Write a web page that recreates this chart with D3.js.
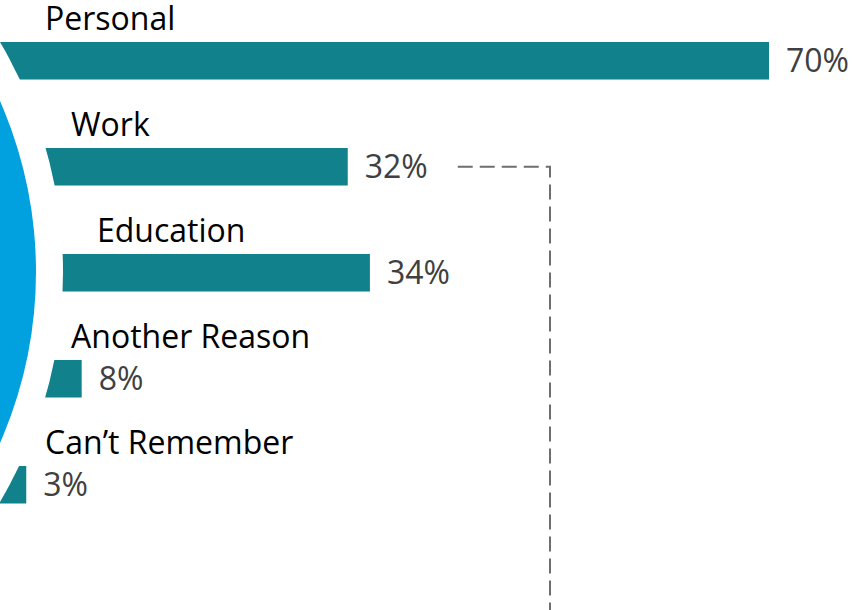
<!DOCTYPE html>
<html>
<head>
<meta charset="utf-8">
<script src="https://cdn.jsdelivr.net/npm/d3@7"></script>
<style>
  html, body { margin: 0; padding: 0; background: #ffffff; }
  svg { display: block; }
</style>
</head>
<body>
<svg id="chart" width="854" height="610"></svg>
<script>
// ---- data ----
const categories = ["Personal", "Work", "Education", "Another Reason", "Can\u2019t Remember"];
const values = [70, 32, 34, 8, 3];
const valueLabels = ["70%", "32%", "34%", "8%", "3%"];

// ---- layout ----
const W = 854, H = 610;
const svg = d3.select("#chart");

const x = d3.scaleLinear().domain([0, 70]).range([-7, 769]);
const y = d3.scaleBand().domain(categories).range([42, 503.5]).paddingInner(0.646).paddingOuter(0);

const circleCx = -388, circleCy = 272;
const gapR = 451, blueR = 424;

const teal = "#11828C";
const blue = "#00A1DE";
const fontFamily = "'Open Sans', 'Noto Sans', sans-serif";
const fontSize = 32;

const rows = categories.map((c, i) => ({ cat: c, v: values[i], lab: valueLabels[i] }));

// bars
svg.append("g").selectAll("rect").data(rows).join("rect")
  .attr("x", x(0))
  .attr("y", d => y(d.cat))
  .attr("width", d => x(d.v) - x(0))
  .attr("height", y.bandwidth())
  .attr("fill", teal);

// white ring gap and blue circle
svg.append("circle").attr("cx", circleCx).attr("cy", circleCy).attr("r", gapR).attr("fill", "#ffffff");
svg.append("circle").attr("cx", circleCx).attr("cy", circleCy).attr("r", blueR).attr("fill", blue);

// category labels (indent follows the arc of the layout)
const labelCenterY = (y(categories[0]) + y(categories[categories.length - 1])) / 2 - 23;
svg.append("g").selectAll("text").data(rows).join("text")
  .attr("x", d => {
    const yy = y(d.cat) - 23;
    return 97 - 0.245 * Math.abs(yy - labelCenterY);
  })
  .attr("y", d => y(d.cat) - 12)
  .attr("font-family", fontFamily)
  .attr("font-size", fontSize)
  .attr("fill", "#000000")
  .text(d => d.cat);

// value labels
svg.append("g").selectAll("text").data(rows).join("text")
  .attr("x", d => x(d.v) + 17)
  .attr("y", d => y(d.cat) + y.bandwidth() / 2 + 11)
  .attr("font-family", fontFamily)
  .attr("font-size", fontSize)
  .attr("fill", "#404040")
  .text(d => d.lab);

// dashed connector from Work value
const workY = y("Work") + y.bandwidth() / 2;
const lineStartX = x(values[1]) + 110;
const cornerX = 550;
svg.append("path")
  .attr("d", d3.line()([[lineStartX, workY], [cornerX, workY], [cornerX, H]]))
  .attr("fill", "none")
  .attr("stroke", "#6D6E71")
  .attr("stroke-width", 2)
  .attr("stroke-dasharray", "15,7");
</script>
</body>
</html>
